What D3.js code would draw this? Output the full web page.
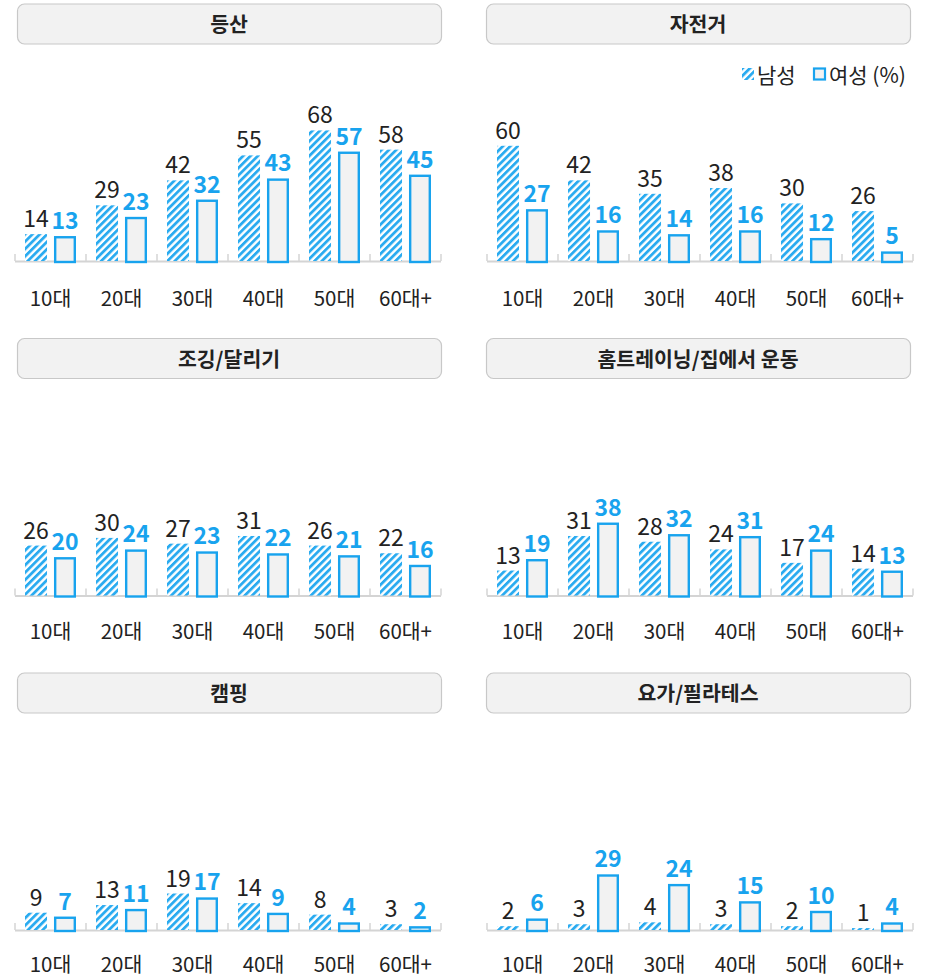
<!DOCTYPE html>
<html>
<head>
<meta charset="utf-8">
<script src="https://cdn.jsdelivr.net/npm/d3@7"></script>
<style>
    html, body { margin: 0; padding: 0; background: #fff; }
    svg text { font-family: "Noto Sans CJK KR", "Noto Sans", sans-serif; }
</style>
</head>
<body>
<div id="chart"></div>
<script>
var ages = ["10대", "20대", "30대", "40대", "50대", "60대+"];
var titles = ["등산", "자전거", "조깅/달리기", "홈트레이닝/집에서 운동", "캠핑", "요가/필라테스"];
var male = [
    [14, 29, 42, 55, 68, 58],
    [60, 42, 35, 38, 30, 26],
    [26, 30, 27, 31, 26, 22],
    [13, 31, 28, 24, 17, 14],
    [9, 13, 19, 14, 8, 3],
    [2, 3, 4, 3, 2, 1]
];
var female = [
    [13, 23, 32, 43, 57, 45],
    [27, 16, 14, 16, 12, 5],
    [20, 24, 23, 22, 21, 16],
    [19, 38, 32, 31, 24, 13],
    [7, 11, 17, 9, 4, 2],
    [6, 29, 24, 15, 10, 4]
];
var legendLabels = ["남성", "여성 (%)"];

(function () {
    var W = 934, H = 978;
    var blue = "#18a3ee";
    var rowStep = 334.5;

    var svg = d3.select("#chart").append("svg")
        .attr("width", W)
        .attr("height", H);

    // 남성 막대용 사선 패턴
    var defs = svg.append("defs");
    var pat = defs.append("pattern")
        .attr("id", "hatch")
        .attr("patternUnits", "userSpaceOnUse")
        .attr("width", 5.2)
        .attr("height", 5.2)
        .attr("patternTransform", "rotate(45)");
    pat.append("rect").attr("width", 5.2).attr("height", 5.2).attr("fill", "#fff");
    pat.append("rect").attr("width", 2.8).attr("height", 5.2).attr("fill", "#2aabf0");

    var y = d3.scaleLinear().domain([0, 100]).range([0, 192]);

    function drawPanel(i) {
        var col = i % 2, row = Math.floor(i / 2);
        var left = col === 0 ? 15 : 487;
        var top = row * rowStep;
        var base = 261 + top;

        var g = svg.append("g");

        // 제목 박스
        var hx = col === 0 ? 17 : 486;
        g.append("rect")
            .attr("x", hx + 0.5).attr("y", 4 + top)
            .attr("width", 424).attr("height", 40)
            .attr("rx", 7)
            .attr("fill", "#f2f2f2")
            .attr("stroke", "#c8c8c8")
            .attr("stroke-width", 1.2);
        g.append("text")
            .attr("x", hx + 212).attr("y", 24.5 + top)
            .attr("dy", "0.38em")
            .attr("text-anchor", "middle")
            .style("font-size", "20.5px")
            .style("font-weight", "bold")
            .attr("fill", "#222")
            .text(titles[i]);

        var x = d3.scaleBand().domain(ages).range([left, left + 426]);
        var inner = d3.scaleBand().domain(["m", "f"]).range([0, x.bandwidth()])
            .paddingInner(0.24).paddingOuter(0.345);
        var bw = inner.bandwidth();

        // 축 기준선과 눈금
        g.append("line")
            .attr("x1", left).attr("x2", left + 426)
            .attr("y1", base + 0.5).attr("y2", base + 0.5)
            .attr("stroke", "#d4d4d4").attr("stroke-width", 2);
        var ticks = ages.map(function (a) { return x(a); }).concat([left + 426]);
        g.selectAll(".tick").data(ticks).enter().append("line")
            .attr("x1", function (d) { return d; }).attr("x2", function (d) { return d; })
            .attr("y1", base - 7).attr("y2", base)
            .attr("stroke", "#d4d4d4").attr("stroke-width", 1.5);

        g.selectAll(".age").data(ages).enter().append("text")
            .attr("x", function (d) { return x(d) + x.bandwidth() / 2; })
            .attr("y", 298.5 + row * 333)
            .attr("dy", "0.36em")
            .attr("text-anchor", "middle")
            .style("font-size", "20.5px")
            .attr("fill", "#222")
            .text(function (d) { return d; });

        // 남성
        g.selectAll(".m").data(male[i]).enter().append("rect")
            .attr("x", function (d, k) { return x(ages[k]) + inner("m"); })
            .attr("y", function (d) { return base - y(d); })
            .attr("width", bw)
            .attr("height", function (d) { return y(d); })
            .attr("fill", "url(#hatch)");
        g.selectAll(".ml").data(male[i]).enter().append("text")
            .attr("x", function (d, k) { return x(ages[k]) + inner("m") + bw / 2; })
            .attr("y", function (d) { return base - y(d) - 7; })
            .attr("text-anchor", "middle")
            .style("font-size", "23px")
            .attr("fill", "#222")
            .text(function (d) { return d; });

        // 여성
        g.selectAll(".f").data(female[i]).enter().append("rect")
            .attr("x", function (d, k) { return x(ages[k]) + inner("f") + 1.2; })
            .attr("y", function (d) { return base - y(d) + 1.2; })
            .attr("width", bw - 2.4)
            .attr("height", function (d) { return y(d) - 0.2; })
            .attr("fill", "#f2f2f2")
            .attr("stroke", blue)
            .attr("stroke-width", 2.4);
        g.selectAll(".fl").data(female[i]).enter().append("text")
            .attr("x", function (d, k) { return x(ages[k]) + inner("f") + bw / 2; })
            .attr("y", function (d) { return base - y(d) - 7; })
            .attr("text-anchor", "middle")
            .style("font-size", "23px")
            .style("font-weight", "bold")
            .attr("fill", blue)
            .text(function (d) { return d; });
    }

    for (var i = 0; i < titles.length; i++) {
        drawPanel(i);
    }

    // 범례 (오른쪽 위)
    var lg = svg.append("g");
    lg.append("rect")
        .attr("x", 742).attr("y", 68).attr("width", 12).attr("height", 12)
        .attr("fill", "url(#hatch)");
    lg.append("text")
        .attr("x", 757).attr("y", 75).attr("dy", "0.36em")
        .style("font-size", "21px").attr("fill", "#222")
        .text(legendLabels[0]);
    lg.append("rect")
        .attr("x", 814).attr("y", 68.5).attr("width", 11).attr("height", 11)
        .attr("fill", "#f2f2f2").attr("stroke", blue).attr("stroke-width", 2.2);
    lg.append("text")
        .attr("x", 829).attr("y", 75).attr("dy", "0.36em")
        .style("font-size", "21px").attr("fill", "#222")
        .text(legendLabels[1]);
})();
</script>
</body>
</html>
